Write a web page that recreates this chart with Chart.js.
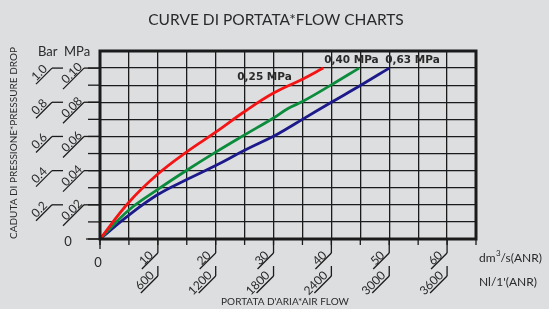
<!DOCTYPE html>
<html>
<head>
<meta charset="utf-8">
<script src="https://cdn.jsdelivr.net/npm/chart.js@4/dist/chart.umd.min.js"></script>
<style>
  html, body { margin: 0; padding: 0; background: #dddee0; }
  #chart { display: block; }
</style>
</head>
<body>
<canvas id="chart" width="549" height="309"></canvas>
<script>
// Flow (dm3/s ANR) and pressure drop (MPa)
const flow025 = [0, 5, 10, 15, 20, 25, 30, 35, 38.6];
const drop025 = [0, 0.0215, 0.038, 0.051, 0.0625, 0.0746, 0.0854, 0.0935, 0.1];
const flow040 = [0, 5, 10, 15, 20, 25, 30, 32.5, 35, 40, 44.8];
const drop040 = [0, 0.017, 0.029, 0.0402, 0.0508, 0.0609, 0.0708, 0.0764, 0.0804, 0.0902, 0.1];
const flow063 = [0, 5, 10, 15, 20, 25, 30, 32.5, 35, 40, 45, 50];
const drop063 = [0, 0.014, 0.026, 0.0348, 0.043, 0.0519, 0.0601, 0.0649, 0.07, 0.08, 0.0898, 0.1];

const seriesNames = ["0,25 MPa", "0,40 MPa", "0,63 MPa"];
const seriesColors = ["#f41414", "#0b8c3c", "#1c1a8a"];

// tick labels
const dm3Ticks = [10, 20, 30, 40, 50, 60];
const nlTicks = ["600", "1200", "1800", "2400", "3000", "3600"];
const mpaTicks = [0.02, 0.04, 0.06, 0.08, 0.10];
const mpaLabels = ["0.02", "0.04", "0.06", "0.08", "0.10"];
const barLabels = ["0.2", "0.4", "0.6", "0.8", "1.0"];

function toPoints(xs, ys) {
  return xs.map((x, i) => ({ x: x, y: ys[i] }));
}

const ink = "#1b1b1b";
const textColor = "#2a2a2a";
const fontMain = "Lato, 'DejaVu Sans', sans-serif";

function rotText(ctx, txt, x, y) {
  ctx.save();
  ctx.translate(x, y);
  ctx.rotate(-Math.PI / 4);
  ctx.textAlign = "right";
  ctx.textBaseline = "alphabetic";
  ctx.fillText(txt, 0, 0);
  ctx.restore();
}

function line(ctx, x1, y1, x2, y2) {
  ctx.beginPath();
  ctx.moveTo(x1, y1);
  ctx.lineTo(x2, y2);
  ctx.stroke();
}

// frame, outside ticks and the slanted labels
const decorPlugin = {
  id: "decor",
  beforeDatasetsDraw(chart) {
    const ctx = chart.ctx;
    const a = chart.chartArea;
    const xs = chart.scales.x;
    const ys = chart.scales.y;
    ctx.save();
    ctx.strokeStyle = ink;
    ctx.lineWidth = 1.3;

    // y minor ticks
    for (let v = 0; v <= 0.1001; v += 0.01) {
      const y = ys.getPixelForValue(v);
      line(ctx, a.left - 12, y, a.left, y);
    }
    // x minor ticks
    for (let v = 0; v <= 65; v += 5) {
      const x = xs.getPixelForValue(v);
      line(ctx, x, a.bottom, x, a.bottom + 6);
    }
    line(ctx, a.left - 14, a.bottom, a.left, a.bottom);
    line(ctx, a.left, a.bottom, a.left, a.bottom + 10);

    ctx.fillStyle = textColor;
    ctx.font = "12px " + fontMain;

    // y labels: MPa and Bar
    mpaTicks.forEach((v, i) => {
      const y = ys.getPixelForValue(v);
      line(ctx, a.left - 16, y, a.left, y);
      line(ctx, a.left - 16, y, a.left - 37, y + 21);
      rotText(ctx, mpaLabels[i], a.left - 17, y - 0.5);
      line(ctx, a.left - 48, y, a.left - 37, y);
      line(ctx, a.left - 48, y, a.left - 64, y + 16);
      rotText(ctx, barLabels[i], a.left - 52, y + 1.5);
    });

    // x labels: dm3/s and Nl/min
    dm3Ticks.forEach((v, i) => {
      const x = xs.getPixelForValue(v);
      line(ctx, x, a.bottom, x, a.bottom + 14);
      line(ctx, x, a.bottom + 14, x - 16, a.bottom + 30);
      rotText(ctx, String(v), x - 4, a.bottom + 17);
      line(ctx, x, a.bottom + 27, x, a.bottom + 37);
      line(ctx, x, a.bottom + 37, x - 17, a.bottom + 54);
      rotText(ctx, nlTicks[i], x - 3, a.bottom + 37);
    });

    ctx.textAlign = "center";
    ctx.textBaseline = "middle";
    ctx.font = "13px " + fontMain;
    ctx.fillText("0", a.left - 32, a.bottom + 3);
    ctx.fillText("0", a.left - 2, a.bottom + 24);

    // units
    ctx.textAlign = "left";
    ctx.font = "13px " + fontMain;
    ctx.fillText("Bar", 38, 52);
    ctx.fillText("MPa", 64, 52);
    ctx.font = "12px " + fontMain;
    ctx.fillText("dm", 479, 258);
    const dmW = ctx.measureText("dm").width;
    ctx.font = "8px " + fontMain;
    ctx.fillText("3", 479 + dmW + 0.5, 253);
    ctx.font = "12px " + fontMain;
    ctx.fillText("/s(ANR)", 479 + dmW + 5, 258);
    ctx.fillText("Nl/1'(ANR)", 479, 282);

    // axis titles
    ctx.textAlign = "center";
    ctx.font = "10px " + fontMain;
    ctx.fillText("PORTATA D'ARIA*AIR FLOW", 285, 302);
    ctx.save();
    ctx.translate(14, 143);
    ctx.rotate(-Math.PI / 2);
    ctx.fillText("CADUTA DI PRESSIONE*PRESSURE DROP", 0, 0);
    ctx.restore();

    ctx.font = "15.5px " + fontMain;
    ctx.fillText("CURVE DI PORTATA*FLOW CHARTS", 276, 20);
    ctx.restore();
  },
  afterDatasetsDraw(chart) {
    const ctx = chart.ctx;
    const a = chart.chartArea;
    ctx.save();
    ctx.strokeStyle = ink;
    ctx.lineWidth = 3;
    ctx.strokeRect(a.left, a.top, a.right - a.left, a.bottom - a.top);

    // series labels next to the curve ends
    ctx.font = "bold 10.5px 'DejaVu Sans', sans-serif";
    ctx.fillStyle = "#2a2a2a";
    ctx.textBaseline = "middle";
    ctx.textAlign = "left";
    const offsets = [[-86, 9], [-35, -8], [-4, -8]];
    chart.data.datasets.forEach((ds, i) => {
      const last = ds.data[ds.data.length - 1];
      const px = chart.scales.x.getPixelForValue(last.x);
      const py = chart.scales.y.getPixelForValue(last.y);
      ctx.fillText(seriesNames[i], px + offsets[i][0], py + offsets[i][1]);
    });
    ctx.restore();
  }
};

const datasets = [
  toPoints(flow025, drop025),
  toPoints(flow040, drop040),
  toPoints(flow063, drop063)
].map((pts, i) => ({
  label: seriesNames[i],
  data: pts,
  borderColor: seriesColors[i],
  borderWidth: 2.8,
  pointRadius: 0,
  fill: false,
  tension: 0.4
}));

new Chart(document.getElementById("chart"), {
  type: "line",
  data: { datasets: datasets },
  options: {
    responsive: false,
    animation: false,
    layout: { padding: { left: 100, right: 73, top: 51, bottom: 70 } },
    plugins: { legend: { display: false }, tooltip: { enabled: false } },
    scales: {
      x: {
        type: "linear",
        min: 0,
        max: 65,
        ticks: { display: false, stepSize: 5 },
        grid: { color: ink, lineWidth: 1.3, drawTicks: false },
        border: { display: false }
      },
      y: {
        type: "linear",
        min: 0,
        max: 0.11,
        ticks: { display: false, stepSize: 0.01 },
        grid: { color: ink, lineWidth: 1.3, drawTicks: false },
        border: { display: false }
      }
    }
  },
  plugins: [decorPlugin]
});
</script>
</body>
</html>
